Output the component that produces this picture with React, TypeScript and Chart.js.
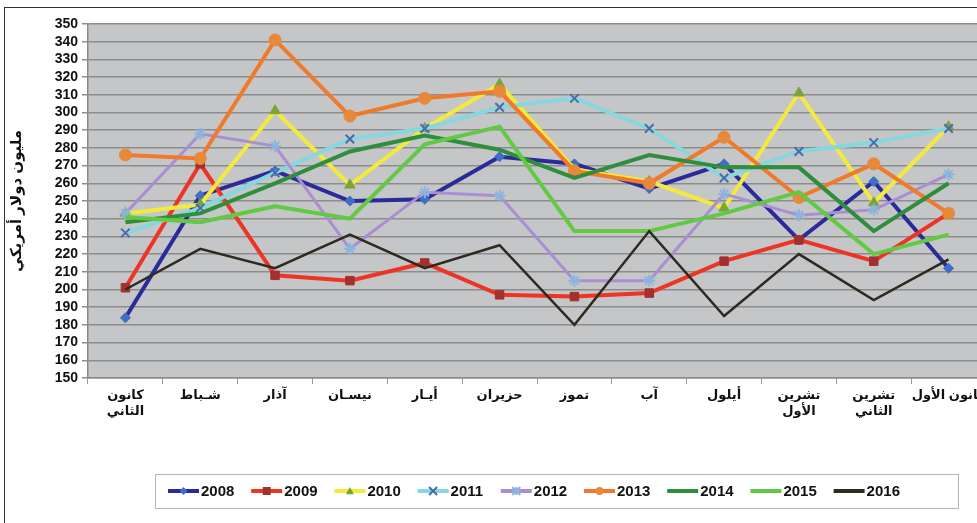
import React, { useEffect, useRef } from "react";
import { Chart, registerables } from "chart.js";

Chart.register(...registerables);

const months: (string | string[])[] = [
  ["كانون", "الثاني"],
  "شـباط",
  "آذار",
  "نيسـان",
  "أيـار",
  "حزيران",
  "تموز",
  "آب",
  "أيلول",
  ["تشرين", "الأول"],
  ["تشرين", "الثاني"],
  "كانون الأول",
];

const years = ["2008", "2009", "2010", "2011", "2012", "2013", "2014", "2015", "2016"];

const v2008 = [184, 253, 267, 250, 251, 275, 271, 257, 271, 228, 261, 212];
const v2009 = [201, 271, 208, 205, 215, 197, 196, 198, 216, 228, 216, 243];
const v2010 = [243, 248, 301, 259, 291, 316, 268, 261, 246, 311, 249, 292];
const v2011 = [232, 246, 266, 285, 291, 303, 308, 291, 263, 278, 283, 291];
const v2012 = [243, 288, 281, 223, 255, 253, 205, 205, 254, 242, 245, 265];
const v2013 = [276, 274, 341, 298, 308, 312, 267, 260, 286, 252, 271, 243];
const v2014 = [238, 243, 260, 278, 287, 279, 263, 276, 269, 269, 233, 260];
const v2015 = [241, 238, 247, 240, 282, 292, 233, 233, 243, 255, 220, 231];
const v2016 = [200, 223, 212, 231, 212, 225, 180, 233, 185, 220, 194, 217];

const yMin = 150;
const yMax = 350;
const yStep = 10;
const yTitle = "مليون دولار أمريكي";

const seriesValues = [v2008, v2009, v2010, v2011, v2012, v2013, v2014, v2015, v2016];
const lineColors = ["#2b2a9a", "#ee3424", "#f4ea3e", "#86d7df", "#a98fd2", "#f07a2a", "#2f8e3b", "#62c942", "#2d2b1f"];
const markerColors = ["#3f6ec3", "#a3302e", "#7aa43b", "#4a6baa", "#8db4de", "#e8893a", "#2f8e3b", "#62c942", "#2d2b1f"];
const markerStyles = ["rectRot", "rect", "triangle", "crossRot", "star", "circle", false, false, false];
const markerRadius = [5, 6, 6, 6, 6, 6, 0, 0, 0];
const lineWidths = [4, 4, 4, 4, 3, 4, 4, 4, 2.5];

const FONT = "'Liberation Sans', Arial, 'DejaVu Sans', sans-serif";

const bgPlugin = {
  id: "plotBg",
  beforeDraw(chart: any) {
    const { ctx, chartArea } = chart;
    ctx.save();
    ctx.fillStyle = "#c5c6c8";
    ctx.fillRect(chartArea.left, chartArea.top, chartArea.right - chartArea.left, chartArea.bottom - chartArea.top);
    ctx.restore();
  },
};

function drawMarker(ctx: CanvasRenderingContext2D, style: string, x: number, y: number, r: number) {
  ctx.beginPath();
  if (style === "rectRot") {
    ctx.moveTo(x, y - r); ctx.lineTo(x + r, y); ctx.lineTo(x, y + r); ctx.lineTo(x - r, y); ctx.closePath(); ctx.fill();
  } else if (style === "rect") {
    ctx.rect(x - r, y - r, 2 * r, 2 * r); ctx.fill();
  } else if (style === "triangle") {
    ctx.moveTo(x, y - r); ctx.lineTo(x + r, y + r * 0.8); ctx.lineTo(x - r, y + r * 0.8); ctx.closePath(); ctx.fill();
  } else if (style === "crossRot") {
    ctx.moveTo(x - r, y - r); ctx.lineTo(x + r, y + r); ctx.moveTo(x + r, y - r); ctx.lineTo(x - r, y + r); ctx.stroke();
  } else if (style === "star") {
    ctx.moveTo(x - r, y - r); ctx.lineTo(x + r, y + r); ctx.moveTo(x + r, y - r); ctx.lineTo(x - r, y + r);
    ctx.moveTo(x, y - r); ctx.lineTo(x, y + r); ctx.moveTo(x - r, y); ctx.lineTo(x + r, y); ctx.stroke();
  } else if (style === "circle") {
    ctx.arc(x, y, r, 0, Math.PI * 2); ctx.fill();
  }
}

const legendPlugin = {
  id: "boxLegend",
  afterDraw(chart: any) {
    const { ctx } = chart;
    const bx = 155, by = 474, bw = 803, bh = 34;
    ctx.save();
    ctx.fillStyle = "#ffffff";
    ctx.fillRect(bx, by, bw, bh);
    ctx.strokeStyle = "#b5b5b5";
    ctx.lineWidth = 1;
    ctx.strokeRect(bx + 0.5, by + 0.5, bw, bh);
    const cy = by + bh / 2;
    chart.data.datasets.forEach((ds: any, i: number) => {
      const x = 168 + i * 83.2;
      ctx.strokeStyle = ds.borderColor;
      ctx.lineWidth = 4;
      ctx.beginPath();
      ctx.moveTo(x, cy);
      ctx.lineTo(x + 31, cy);
      ctx.stroke();
      if (ds.pointStyle && ds.pointRadius > 0) {
        ctx.fillStyle = ds.pointBackgroundColor;
        ctx.strokeStyle = ds.pointBorderColor;
        ctx.lineWidth = ds.pointBorderWidth;
        drawMarker(ctx, ds.pointStyle, x + 15.5, cy, 4);
      }
      ctx.fillStyle = "#111";
      ctx.font = "bold 15px " + FONT;
      ctx.textAlign = "left";
      ctx.textBaseline = "middle";
      ctx.fillText(ds.label, x + 33, cy + 1);
    });
    ctx.restore();
  },
};

export default function App() {
  const ref = useRef<HTMLCanvasElement | null>(null);

  useEffect(() => {
    if (!ref.current) return;
    const datasets = years.map((y, i) => ({
      label: y,
      data: seriesValues[i],
      borderColor: lineColors[i],
      backgroundColor: lineColors[i],
      borderWidth: lineWidths[i],
      pointStyle: markerStyles[i],
      pointRadius: markerRadius[i],
      pointHoverRadius: markerRadius[i],
      pointBackgroundColor: markerColors[i],
      pointBorderColor: markerColors[i],
      pointBorderWidth: markerStyles[i] === "crossRot" || markerStyles[i] === "star" ? 2 : 1,
      tension: 0,
      fill: false,
      order: years.length - i,
    }));

    const chart = new Chart(ref.current, {
      type: "line",
      data: { labels: months, datasets },
      options: {
        responsive: false,
        animation: false,
        devicePixelRatio: 1,
        layout: { padding: { left: 5, top: 24, right: 14, bottom: 85 } },
        plugins: {
          legend: { display: false },
          tooltip: { enabled: false },
        },
        scales: {
          x: {
            type: "category",
            offset: true,
            afterFit(scale: any) {
              scale.height = 60;
            },
            grid: {
              offset: true,
              drawOnChartArea: false,
              drawTicks: true,
              tickLength: 6,
              color: "#9a9a9a",
              tickColor: "#9a9a9a",
            },
            border: { color: "#8a8a8a", width: 1.5 },
            ticks: {
              autoSkip: false,
              maxRotation: 0,
              minRotation: 0,
              padding: 3,
              color: "#111",
              font: { family: FONT, size: 13, weight: "bold", lineHeight: 1.25 },
            },
          },
          y: {
            type: "linear",
            min: yMin,
            max: yMax,
            afterFit(scale: any) {
              scale.width = 83;
            },
            grid: {
              color: "#8c8c8c",
              lineWidth: 1.5,
              tickLength: 6,
              tickColor: "#8c8c8c",
            },
            border: { color: "#8a8a8a", width: 1.5 },
            ticks: {
              stepSize: yStep,
              maxTicksLimit: 40,
              autoSkip: false,
              padding: 4,
              color: "#111",
              font: { family: FONT, size: 14, weight: "bold" },
            },
            title: {
              display: true,
              text: yTitle,
              color: "#111",
              padding: { top: 3, bottom: 4 },
              font: { family: FONT, size: 15, weight: "bold" },
            },
          },
        },
      },
      plugins: [bgPlugin, legendPlugin],
    } as any);

    return () => chart.destroy();
  }, []);

  return (
    <div
      style={{
        position: "fixed",
        left: 0,
        top: 0,
        width: 977,
        height: 523,
        overflow: "hidden",
        background: "#ffffff",
      }}
    >
      <div
        style={{
          position: "absolute",
          left: 4,
          top: 7,
          width: 1200,
          height: 700,
          borderTop: "1.5px solid #333",
          borderLeft: "1.5px solid #333",
        }}
      />
      <canvas
        ref={ref}
        width={1000}
        height={523}
        style={{ position: "absolute", left: 0, top: 0, width: 1000, height: 523 }}
      />
    </div>
  );
}
